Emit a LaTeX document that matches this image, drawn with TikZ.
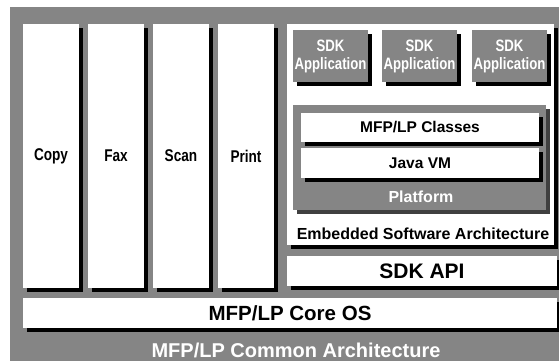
\documentclass[tikz,border=0pt]{standalone}
\usepackage{fontspec}
\setmainfont{Liberation Sans}
\newfontfamily\narrowfont[FakeStretch=0.8]{Liberation Sans Bold}
\usetikzlibrary{shadows}

\definecolor{bggray}{RGB}{133,133,133}
\definecolor{darkshade}{RGB}{64,64,64}

\tikzset{
    layer/.style={fill=white, inner sep=0pt, text=black,
        drop shadow={shadow xshift=4pt, shadow yshift=-4pt, fill=black, opacity=1}},
    column/.style={layer, minimum width=56pt, minimum height=264pt,
        font=\narrowfont\fontsize{17}{19}\selectfont},
    appbox/.style={layer, fill=bggray, text=white, minimum width=75pt, minimum height=52pt,
        align=center, font=\narrowfont\fontsize{16.5}{18}\selectfont},
    inner/.style={layer, minimum width=238pt, font=\bfseries\fontsize{15.5}{17}\selectfont}
}

\begin{document}
\begin{tikzpicture}[x=1pt, y=-1pt]
    % Page and gray background
    \useasboundingbox (0,0) rectangle (559,361);
    \fill[bggray] (10,7) rectangle (559,361);
    % Function columns
    \foreach \lbl/\x in {Copy/51, Fax/116, Scan/181, Print/246}
        \node[column] (col\lbl) at (\x,156) {\lbl};
    % Embedded software block
    \node[layer, minimum width=267pt, minimum height=221pt] (esa) at (420.5,134.5) {};
    \node[font=\bfseries\fontsize{16}{18}\selectfont, inner sep=0pt] (esatext) at (423,234)
        {Embedded Software Architecture};
    % SDK applications
    \foreach \i/\x in {1/330.5, 2/419.5, 3/509.5}
        \node[appbox] (app\i) at (\x,56) {SDK\\Application};
    % Platform with classes and VM
    \node[layer, fill=bggray, minimum width=253pt, minimum height=105pt,
        drop shadow={shadow xshift=4pt, shadow yshift=-4pt, fill=darkshade, opacity=1}]
        (platform) at (419.5,157.5) {};
    \node[inner, minimum height=29pt] (classes) at (420,127.5) {MFP/LP Classes};
    \node[inner, minimum height=30pt] (javavm) at (420,163) {Java VM};
    \node[text=white, font=\bfseries\fontsize{16}{18}\selectfont, inner sep=0pt]
        (platformtext) at (421,197) {Platform};
    % API and OS layers
    \node[layer, minimum width=270pt, minimum height=30pt,
        font=\bfseries\fontsize{21}{23}\selectfont] (sdkapi) at (422,271) {SDK API};
    \node[layer, minimum width=534pt, minimum height=30pt,
        font=\bfseries\fontsize{20.5}{22}\selectfont] (coreos) at (290,313) {MFP/LP Core OS};
    % Common architecture label
    \node[text=white, font=\bfseries\fontsize{20}{22}\selectfont, inner sep=0pt]
        (common) at (296,350) {MFP/LP Common Architecture};
\end{tikzpicture}
\end{document}
